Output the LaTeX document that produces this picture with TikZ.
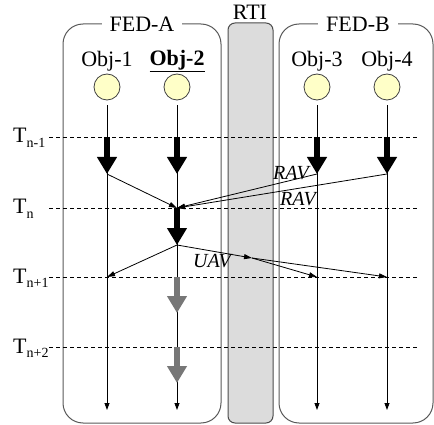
\documentclass[tikz,border=0pt]{standalone}
\usepackage{fontspec}
\setmainfont{Liberation Serif}
\usetikzlibrary{arrows.meta}
\definecolor{objfill}{RGB}{255,255,200}
\definecolor{fatgrey}{RGB}{119,119,119}
\definecolor{rtifill}{RGB}{220,220,220}
\begin{document}
\begin{tikzpicture}[x=1pt,y=-1pt,
  every node/.style={font=\fontsize{22}{26}\selectfont},
  fedbox/.style={draw=black!65, line width=1pt, rounded corners=20pt, minimum width=#1, minimum height=399pt, inner sep=0pt},
  rtibox/.style={draw=black!70, line width=1pt, fill=rtifill, rounded corners=7pt, minimum width=45pt, minimum height=400pt, inner sep=0pt},
  fedlabel/.style={fill=white, inner xsep=8pt, inner ysep=1pt},
  objc/.style={circle, draw=black!75, line width=0.8pt, fill=objfill, minimum size=26pt, inner sep=0pt},
  life/.style={draw=black, line width=0.8pt, -{Triangle[length=7pt,width=5pt]}},
  msg/.style={draw=black, line width=0.8pt, -{Triangle[length=8pt,width=5pt]}},
  tline/.style={draw=black, dash pattern=on 4pt off 3pt, line width=0.8pt},
  fatblack/.style={line width=6pt, draw=black, -{Triangle[length=17pt,width=19pt]}},
  fatgray/.style={line width=6pt, draw=fatgrey, -{Triangle[length=17pt,width=19pt]}},
  msglabel/.style={font=\fontsize{20}{24}\selectfont\itshape, inner sep=0pt},
  tlabel/.style={anchor=base west, inner sep=0pt}
]
\useasboundingbox (0,0) rectangle (434,425);
% containers
\node[fedbox=158pt] (feda) at (142,223.5) {};
\node[rtibox] (rti) at (250.5,223) {};
\node[fedbox=154pt] (fedb) at (356,223.5) {};
\node[fedlabel] (fedalab) at (142,24) {FED-A};
\node[fedlabel] (fedblab) at (358,24) {FED-B};
\node[inner sep=0pt] (rtilab) at (250,12) {RTI};
% time lines
\newcommand{\tsub}[1]{\raisebox{-0.45ex}{\fontsize{14}{16}\selectfont #1}}
\node[tlabel] (t1) at (13,143) {T\tsub{n-1}};
\node[tlabel] (t2) at (13,214) {T\tsub{n}};
\node[tlabel] (t3) at (13,283) {T\tsub{n+1}};
\node[tlabel] (t4) at (13,353) {T\tsub{n+2}};
\foreach \y/\n in {137/1,208/2,277/3,347/4}{
  \coordinate (ta\n) at (49,\y);
  \coordinate (tb\n) at (418,\y);
  \draw[tline] (ta\n) -- (tb\n);
}
% objects
\node (o1) at (107,61) {Obj-1};
\node (o2) at (177,61) {\textbf{\underline{Obj-2}}};
\node (o3) at (317,61) {Obj-3};
\node (o4) at (387,61) {Obj-4};
\node[objc] (c1) at (107,87) {};
\node[objc] (c2) at (177,87) {};
\node[objc] (c3) at (317,87) {};
\node[objc] (c4) at (387,87) {};
\foreach \i/\x in {1/107,2/177,3/317,4/387}{
  \coordinate (e\i) at (\x,410);
  \draw[life] ([yshift=-5pt]c\i.south) -- (e\i);
}
% fat arrows
\coordinate (p1a) at (107,137); \coordinate (p1b) at (107,174);
\coordinate (p2a) at (177,137); \coordinate (p2b) at (177,174);
\coordinate (p2c) at (177,208); \coordinate (p2d) at (177,245);
\coordinate (p2e) at (177,277); \coordinate (p2f) at (177,313);
\coordinate (p2g) at (177,347); \coordinate (p2h) at (177,383);
\coordinate (p3a) at (317,137); \coordinate (p3b) at (317,174);
\coordinate (p4a) at (387,137); \coordinate (p4b) at (387,174);
\coordinate (p1c) at (107,277);
\coordinate (p3c) at (317,277);
\coordinate (p4c) at (387,277);
\coordinate (rtip) at (252,258);
\draw[fatblack] (p1a) -- (p1b);
\draw[fatblack] (p2a) -- (p2b);
\draw[fatblack] (p2c) -- (p2d);
\draw[fatgray] (p2e) -- (p2f);
\draw[fatgray] (p2g) -- (p2h);
\draw[fatblack] (p3a) -- (p3b);
\draw[fatblack] (p4a) -- (p4b);
% messages
\draw[msg] (p1b) -- (p2c);
\draw[msg] (p3b) -- (p2c);
\draw[msg] (p4b) -- (p2c);
\draw[msg] (p2d) -- (p1c);
\draw[msg] (p2d) -- (rtip);
\draw[msg] (rtip) -- (p3c);
\draw[msg] (rtip) -- (p4c);
\node[msglabel] (rav1) at (291,173) {RAV};
\node[msglabel] (rav2) at (298,199) {RAV};
\node[msglabel] (uav) at (212,261) {UAV};
\end{tikzpicture}
\end{document}
